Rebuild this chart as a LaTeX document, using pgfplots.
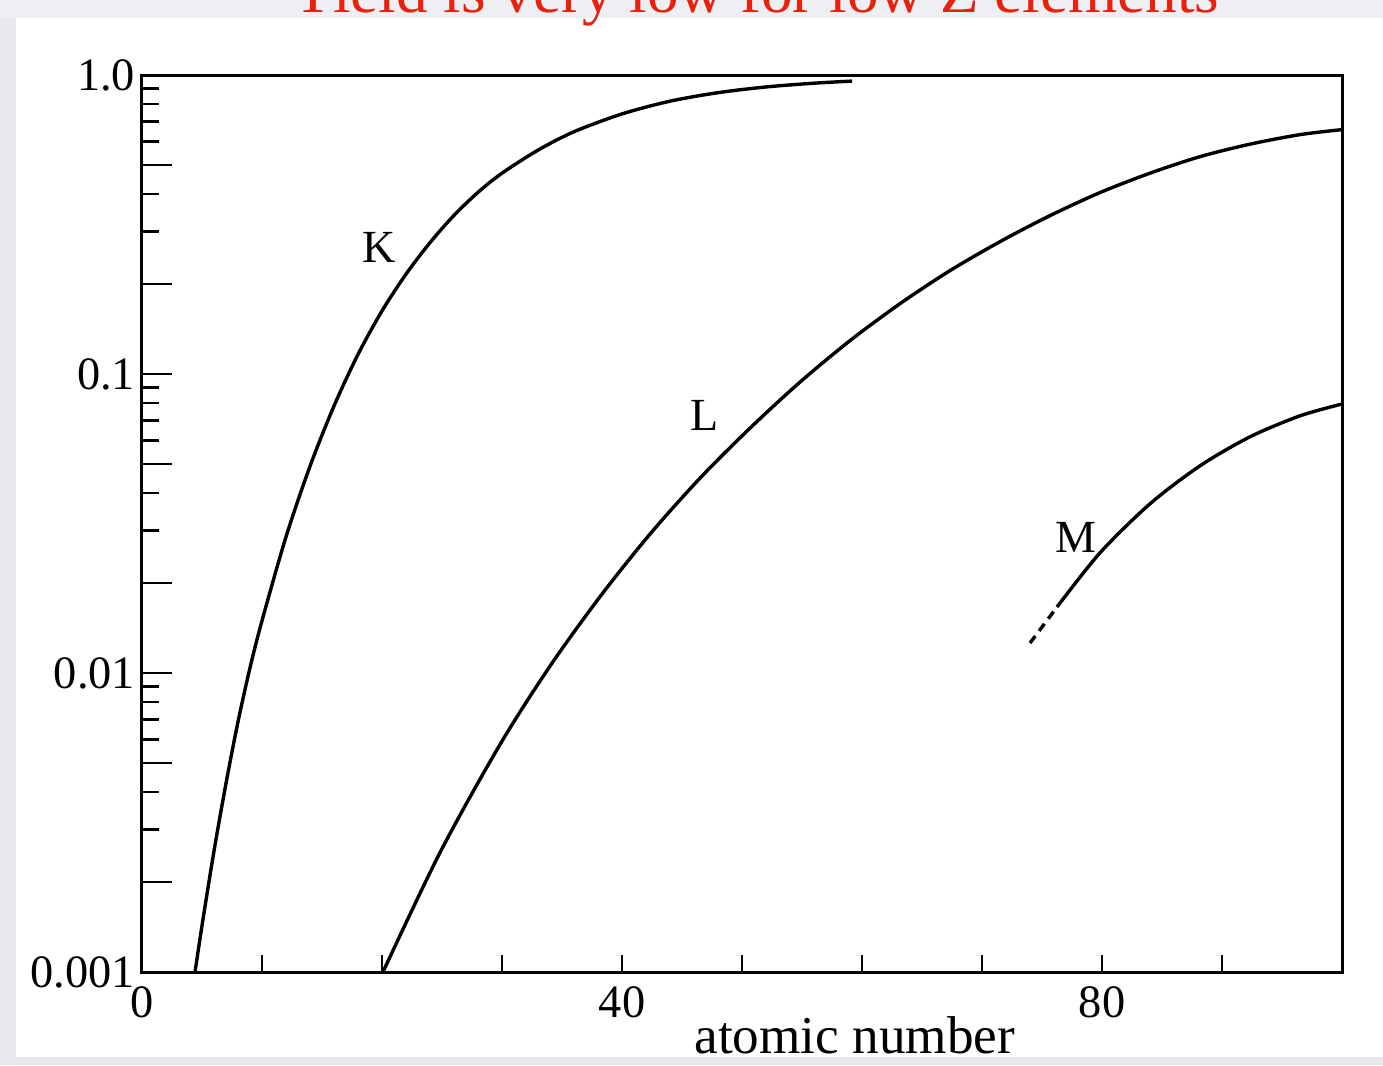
\documentclass[border=0pt]{standalone}
\usepackage{pgfplots}
\pgfplotsset{compat=1.18}
\usepackage{fontspec}
\setmainfont{Liberation Serif}

\definecolor{titlered}{RGB}{232,32,12}
\definecolor{framegray}{RGB}{230,232,238}

\begin{document}
\begin{tikzpicture}
% page frame: axis box lower-left corner sits at the origin
\useasboundingbox (-35.5pt,-23.25pt) rectangle (310.25pt,243pt);
\fill[framegray] (-35.5pt,-23.25pt) rectangle (-31.5pt,243pt);
\fill[framegray] (-35.5pt,-23.25pt) rectangle (310.25pt,-21.25pt);
\fill[framegray!70] (-35.5pt,238.5pt) rectangle (310.25pt,243pt);
\begin{axis}[
  at={(0,0)}, anchor=south west,
  scale only axis, width=300pt, height=224.25pt,
  ymode=log, xmin=0, xmax=100, ymin=0.001, ymax=1,
  axis line style={line width=0.75pt},
  tick pos=left, tick align=inside,
  xtick={0,10,...,90}, xticklabels={0,,,,40,,,,80},
  ytick={0.001,0.01,0.1,1}, yticklabels={0.001,0.01,0.1,1.0},
  extra y ticks={0.002,0.005,0.01,0.02,0.05,0.1,0.2,0.5},
  extra y tick labels={},
  extra y tick style={major tick length=7.5pt},
  major tick length=4.25pt, minor tick length=4.25pt,
  every tick/.append style={black, line width=0.7pt},
  tick label style={font=\fontsize{11.6}{13}\selectfont},
  yticklabel style={inner xsep=1.5pt},
  clip=false,
]
% K shell
\addplot[black, line width=0.85pt, smooth] coordinates {
  (4.42,0.001) (5,0.001429) (6,0.00254) (7,0.004275) (8,0.00687)
  (9,0.01041) (10,0.01496) (12,0.02854) (14,0.04915) (16,0.0782)
  (18,0.1163) (20,0.1626) (22,0.2158) (24,0.2751) (26,0.3394)
  (28,0.4053) (30,0.4697) (33,0.5608) (36,0.6464) (40,0.7413)
  (44,0.8176) (48,0.8730) (52,0.9123) (56,0.9391) (59.17,0.9545)
};
% L shell
\addplot[black, line width=0.85pt, smooth] coordinates {
  (20.08,0.001) (24.83,0.002508) (29.83,0.005762) (34.0,0.010546)
  (38.17,0.018009) (42.33,0.029142) (46.5,0.044853) (50.67,0.06594)
  (54.83,0.09395) (59.0,0.12932) (63.17,0.17199) (67.33,0.22172)
  (71.5,0.27720) (75.67,0.33873) (79.83,0.40439) (84.0,0.46967)
  (88.17,0.53339) (92.33,0.58722) (96.5,0.63199) (100,0.65679)
};
% M shell, extrapolated part dashed
\addplot[black, line width=0.85pt, dash pattern=on 2.2pt off 1.6pt] coordinates {
  (74.0,0.012598) (76.25,0.016626)
};
\addplot[black, line width=0.85pt, smooth] coordinates {
  (76.25,0.016626) (79.83,0.02523) (84.0,0.03681) (88.17,0.04932)
  (92.33,0.06166) (96.5,0.07248) (100,0.07938)
};
\node[font=\fontsize{11.5}{13}\selectfont] at (axis cs:19.8,0.266) {K};
\node[font=\fontsize{11.5}{13}\selectfont] at (axis cs:46.9,0.0729) {L};
\node[font=\fontsize{11.5}{13}\selectfont] at (axis cs:77.8,0.0285) {M};
\node[anchor=base, text=titlered, font=\fontsize{15.8}{18}\selectfont]
  at ([yshift=15.75pt]axis cs:51.1,1) {Yield is very low for low Z elements};
\node[anchor=base, font=\fontsize{13.3}{15}\selectfont]
  at ([yshift=-20.25pt]axis cs:59.4,0.001) {atomic number};
\end{axis}
\end{tikzpicture}
\end{document}
